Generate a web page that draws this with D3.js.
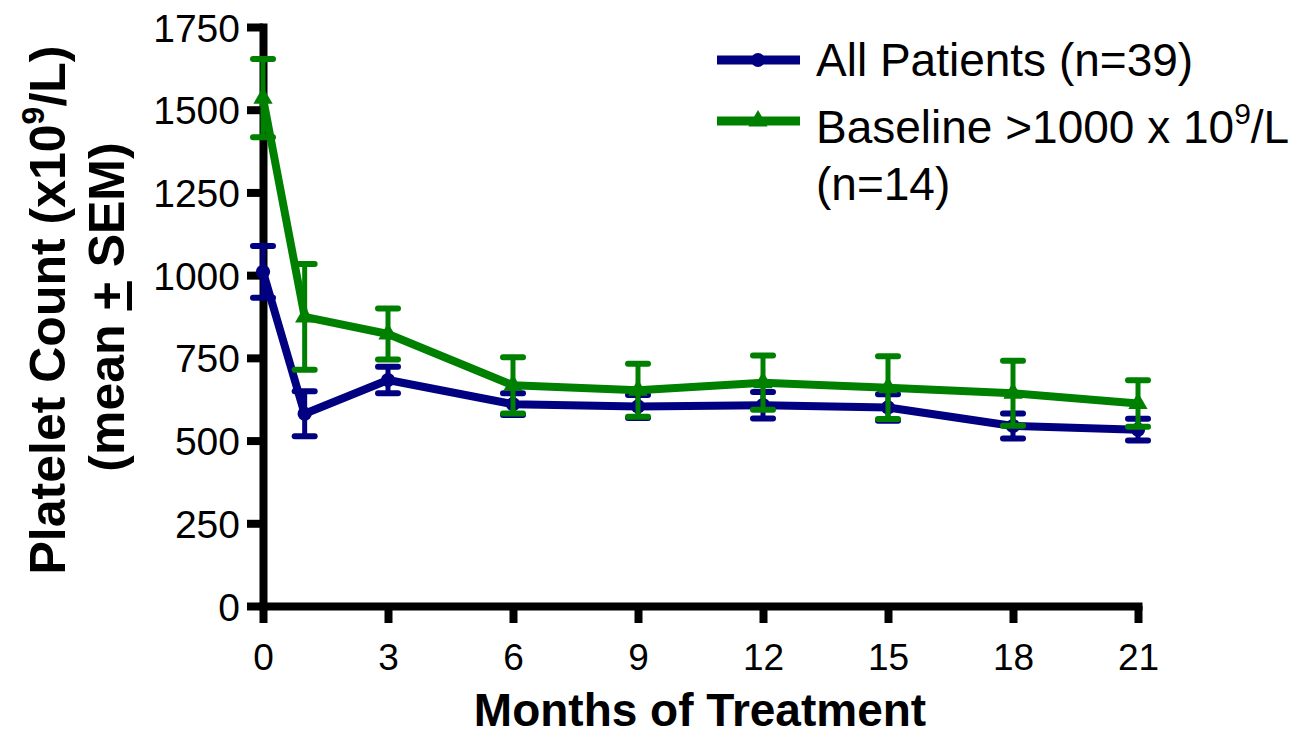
<!DOCTYPE html>
<html>
<head>
<meta charset="utf-8">
<script src="https://cdn.jsdelivr.net/npm/d3@7"></script>
<style>
  html, body { margin: 0; padding: 0; background: #fff; }
  svg { display: block; font-family: 'Liberation Sans', Arial, sans-serif; }
</style>
</head>
<body>
<div id="chart"></div>
<script>
const months = [0, 1, 3, 6, 9, 12, 15, 18, 21]
const allMean = [1010, 581, 683, 610, 603, 607, 600, 544, 533]
const allSem = [78, 68, 40, 33, 35, 40, 40, 38, 33]
const baseMean = [1535, 874, 822, 667, 652, 675, 660, 643, 612]
const baseSem = [118, 160, 77, 85, 80, 82, 95, 98, 70]
const xTicks = [0, 3, 6, 9, 12, 15, 18, 21]
const yTicks = [0, 250, 500, 750, 1000, 1250, 1500, 1750]

const width = 1310
const height = 737
const blue = '#000080'
const green = '#008000'

const svg = d3.select('#chart')
  .append('svg')
  .attr('width', width)
  .attr('height', height)

const x = d3.scaleLinear().domain([0, 21]).range([263, 1138])
const y = d3.scaleLinear().domain([0, 1750]).range([606, 27])

// axes
const yAxis = svg.append('g')
  .attr('transform', `translate(${x(0)},0)`)
  .call(d3.axisLeft(y).tickValues(yTicks).tickFormat(d3.format('d'))
    .tickSize(16).tickSizeOuter(0).tickPadding(7))
const xAxis = svg.append('g')
  .attr('transform', `translate(0,${y(0)})`)
  .call(d3.axisBottom(x).tickValues(xTicks).tickSize(17).tickSizeOuter(0).tickPadding(20))

yAxis.select('.domain').attr('stroke-width', 8).attr('stroke-linecap', 'square')
xAxis.select('.domain').attr('stroke-width', 8).attr('stroke-linecap', 'square')
yAxis.selectAll('.tick line').attr('stroke-width', 8)
xAxis.selectAll('.tick line').attr('stroke-width', 8)
yAxis.selectAll('.tick text')
  .attr('font-size', 39)
  .attr('font-family', 'Liberation Sans, Arial, sans-serif')
  .attr('fill', '#000')
  .attr('dy', '0.36em')
xAxis.selectAll('.tick text')
  .attr('font-size', 37)
  .attr('font-family', 'Liberation Sans, Arial, sans-serif')
  .attr('fill', '#000')
  .attr('dy', '0.72em')

function drawSeries(means, sems, color, marker) {
  const rows = months.map((m, i) => ({ m: m, v: means[i], e: sems[i] }))
  const g = svg.append('g')
  const cap = 10

  g.selectAll('.bar')
    .data(rows)
    .enter()
    .append('path')
    .attr('class', 'bar')
    .attr('fill', 'none')
    .attr('stroke', color)
    .attr('stroke-width', 5)
    .attr('d', d => `M${x(d.m)},${y(d.v + d.e)}V${y(d.v - d.e)}`)

  g.selectAll('.cap')
    .data(rows.flatMap(d => [d.v + d.e, d.v - d.e].map(v => ({ m: d.m, v: v }))))
    .enter()
    .append('path')
    .attr('class', 'cap')
    .attr('stroke', color)
    .attr('stroke-width', 6)
    .attr('stroke-linecap', 'round')
    .attr('d', d => `M${x(d.m) - cap},${y(d.v)}H${x(d.m) + cap}`)

  const line = d3.line().x(d => x(d.m)).y(d => y(d.v))
  g.append('path')
    .datum(rows)
    .attr('fill', 'none')
    .attr('stroke', color)
    .attr('stroke-width', 8)
    .attr('stroke-linejoin', 'round')
    .attr('d', line)

  const sym = d3.symbol().type(marker === 'circle' ? d3.symbolCircle : d3.symbolTriangle)
    .size(marker === 'circle' ? 160 : 160)
  g.selectAll('.pt')
    .data(rows)
    .enter()
    .append('path')
    .attr('class', 'pt')
    .attr('fill', color)
    .attr('transform', d => `translate(${x(d.m)},${y(d.v)})`)
    .attr('d', sym)
}

drawSeries(allMean, allSem, blue, 'circle')
drawSeries(baseMean, baseSem, green, 'triangle')

// legend
const legend = svg.append('g').attr('font-size', 46)
const legendItems = [
  { color: blue, marker: d3.symbolCircle, size: 150, y: 60 },
  { color: green, marker: d3.symbolTriangle, size: 160, y: 121 }
]
legendItems.forEach(item => {
  legend.append('line')
    .attr('x1', 717).attr('x2', 800)
    .attr('y1', item.y).attr('y2', item.y)
    .attr('stroke', item.color)
    .attr('stroke-width', 9)
  legend.append('path')
    .attr('transform', `translate(758,${item.y})`)
    .attr('fill', item.color)
    .attr('d', d3.symbol().type(item.marker).size(item.size))
})
legend.append('text').attr('x', 816).attr('y', 76).text('All Patients (n=39)')
const baseText = legend.append('text').attr('x', 816).attr('y', 143)
baseText.append('tspan').text('Baseline >1000 x 10')
baseText.append('tspan').attr('font-size', 30).attr('dy', -19).text('9')
baseText.append('tspan').attr('dy', 19).text('/L')
legend.append('text').attr('x', 816).attr('y', 200).text('(n=14)')

// axis titles
svg.append('text')
  .attr('x', 700).attr('y', 726)
  .attr('text-anchor', 'middle')
  .attr('font-size', 46)
  .attr('font-weight', 'bold')
  .text('Months of Treatment')

const yTitle = svg.append('g')
  .attr('font-size', 50)
  .attr('font-weight', 'bold')
  .attr('text-anchor', 'middle')
const t1 = yTitle.append('text').attr('transform', 'translate(65,310) rotate(-90)')
t1.append('tspan').text('Platelet Count (x10')
t1.append('tspan').attr('font-size', 32).attr('dy', -21).text('9')
t1.append('tspan').attr('dy', 21).text('/L)')
const t2 = yTitle.append('text').attr('transform', 'translate(124,307) rotate(-90)')
t2.append('tspan').text('(mean ')
t2.append('tspan').attr('text-decoration', 'underline').text('+')
t2.append('tspan').text(' SEM)')
</script>
</body>
</html>
